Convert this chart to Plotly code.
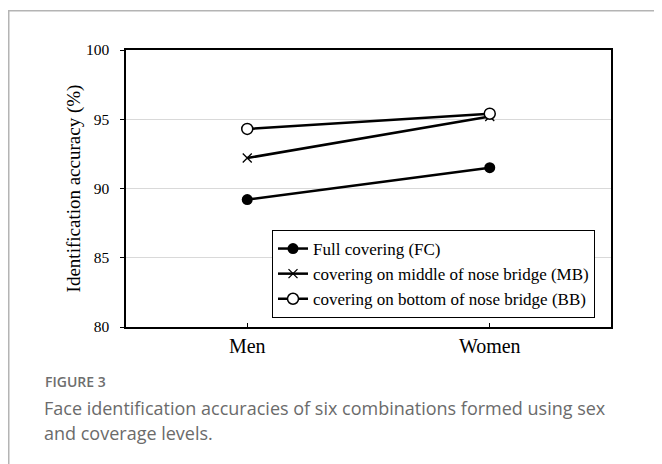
import plotly.graph_objects as go

categories = ["Men", "Women"]
fc_values = [89.2, 91.5]
mb_values = [92.2, 95.2]
bb_values = [94.3, 95.4]
series_names = [
    "Full covering (FC)",
    "covering on middle of nose bridge (MB)",
    "covering on bottom of nose bridge (BB)",
]
y_ticks = [80, 85, 90, 95, 100]

W, H = 662, 464
OFF = 8  # page body margin
# target plot area in page pixels: x 126..611, y 50..327
PL, PR, PT, PB = 126, 611, 50, 327
pw, ph = PR - PL, PB - PT
L, T = PL - OFF, PT - OFF
R = W - L - pw
B = H - T - ph

def px_x(x):
    return (x - PL) / pw

def px_y(y):
    return (PB - y) / ph

serif = "Liberation Serif, Times New Roman, serif"

fig = go.Figure()
fig.add_trace(go.Scatter(
    x=categories, y=fc_values, name=series_names[0], mode="lines+markers",
    line=dict(color="black", width=2.5),
    marker=dict(symbol="circle", size=11, color="black"),
))
fig.add_trace(go.Scatter(
    x=categories, y=mb_values, name=series_names[1], mode="lines+markers",
    line=dict(color="black", width=2.5),
    marker=dict(symbol="x-thin", size=9, color="black", line=dict(color="black", width=1.3)),
))
fig.add_trace(go.Scatter(
    x=categories, y=bb_values, name=series_names[2], mode="lines+markers",
    line=dict(color="black", width=2.5),
    marker=dict(symbol="circle", size=11, color="white", line=dict(color="black", width=1.5)),
))

fig.update_layout(
    width=W, height=H,
    margin=dict(l=L, r=R, t=T, b=B),
    paper_bgcolor="white", plot_bgcolor="white",
    showlegend=True,
    legend=dict(
        x=px_x(272), y=px_y(230), xanchor="left", yanchor="top",
        bordercolor="black", borderwidth=1, bgcolor="white",
        font=dict(family=serif, size=17, color="black"),
        tracegroupgap=0, itemwidth=30,
    ),
    xaxis=dict(
        type="category", range=[-0.5, 1.5],
        showline=True, linecolor="black", linewidth=1.5, mirror=True,
        ticks="inside", ticklen=4, tickcolor="black",
        showgrid=False,
        tickfont=dict(family=serif, size=20, color="black"),
    ),
    yaxis=dict(
        range=[80, 100], tickvals=y_ticks,
        showline=True, linecolor="black", linewidth=1.5, mirror=True,
        ticks="outside", ticklen=4, tickcolor="black",
        ticklabelstandoff=8,
        showgrid=True, gridcolor="#d9d9d9", gridwidth=1,
        zeroline=False,
        tickfont=dict(family=serif, size=15.5, color="black"),
        title=dict(text="Identification accuracy (%)", standoff=0,
                   font=dict(family=serif, size=19, color="black")),
    ),
    shapes=[dict(
        type="rect", xref="paper", yref="paper",
        x0=px_x(8.75), x1=px_x(700), y0=px_y(500), y1=px_y(10.75),
        line=dict(color="#b4b4b4", width=1.5), fillcolor="rgba(0,0,0,0)", layer="below",
    )],
    annotations=[
        dict(text="FIGURE 3", xref="paper", yref="paper", x=px_x(43), y=px_y(381),
             xanchor="left", yanchor="middle", showarrow=False,
             font=dict(family="Open Sans", size=14, color="#6e6e6e", weight=600)),
        dict(text="Face identification accuracies of six combinations formed using sex",
             xref="paper", yref="paper", x=px_x(42), y=px_y(408),
             xanchor="left", yanchor="middle", showarrow=False,
             font=dict(family="Open Sans", size=18, color="#6b6b6b")),
        dict(text="and coverage levels.",
             xref="paper", yref="paper", x=px_x(42), y=px_y(433),
             xanchor="left", yanchor="middle", showarrow=False,
             font=dict(family="Open Sans", size=18, color="#6b6b6b")),
    ],
)

fig.write_html("out.html")
